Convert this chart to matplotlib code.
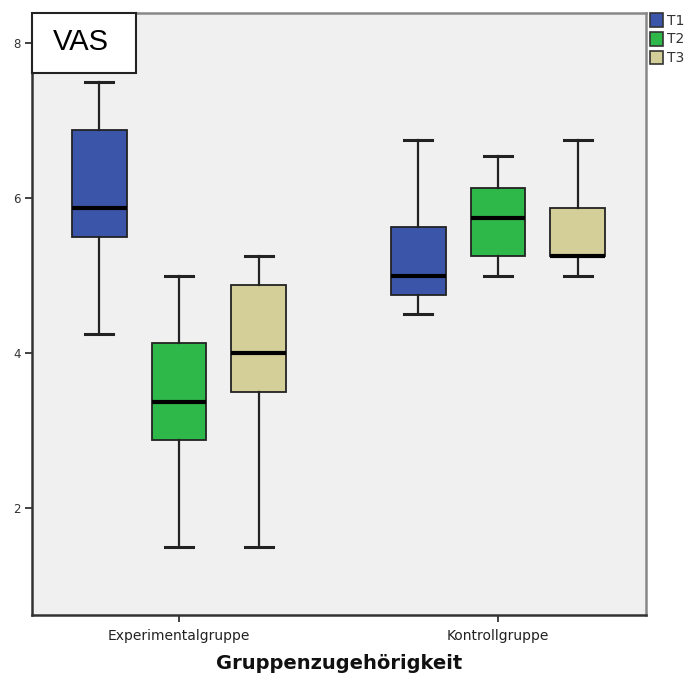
import matplotlib
matplotlib.use("Agg")
import matplotlib.pyplot as plt
from matplotlib.patches import Patch, Rectangle

groups = ["Experimentalgruppe", "Kontrollgruppe"]
times = ["T1", "T2", "T3"]
colors = ["#3b56a9", "#2fb84a", "#d4cf99"]

# box statistics per group, in T1, T2, T3 order
whis_lo = [[4.25, 1.5, 1.5], [4.5, 5.0, 5.0]]
q1 = [[5.5, 2.875, 3.5], [4.75, 5.25, 5.25]]
med = [[5.875, 3.375, 4.0], [5.0, 5.75, 5.25]]
q3 = [[6.875, 4.125, 4.875], [5.625, 6.125, 5.875]]
whis_hi = [[7.5, 5.0, 5.25], [6.75, 6.55, 6.75]]

fig = plt.figure(figsize=(6.88, 6.75), dpi=100)
ax = fig.add_axes([32 / 688, 1 - 615 / 675, 614 / 688, 602 / 675])
ax.set_facecolor("#f0f0f0")

offsets = [-0.25, 0.0, 0.25]
for g in range(len(groups)):
    for t in range(len(times)):
        st = [dict(whislo=whis_lo[g][t], q1=q1[g][t], med=med[g][t],
                   q3=q3[g][t], whishi=whis_hi[g][t], fliers=[])]
        ax.bxp(st, positions=[g + offsets[t]], widths=0.172, patch_artist=True,
               showfliers=False,
               boxprops=dict(facecolor=colors[t], edgecolor="#222222", linewidth=1.3),
               medianprops=dict(color="black", linewidth=3),
               whiskerprops=dict(color="#222222", linewidth=1.6),
               capprops=dict(color="#222222", linewidth=2.2),
               capwidths=0.088)

ax.set_xlim(-0.461, 1.464)
ax.set_ylim(0.62, 8.39)
ax.set_xticks([0, 1])
ax.set_xticklabels(groups, fontsize=10, color="#222222")
ax.set_yticks([2, 4, 6, 8])
ax.set_yticklabels(["2", "4", "6", "8"], fontsize=8.5, color="#333333")
ax.tick_params(axis="both", length=5, width=1.3, color="#333333", pad=3)
ax.tick_params(axis="x", pad=5)
ax.set_xlabel("Gruppenzugehörigkeit", fontsize=14, fontweight="bold",
              color="#111111", labelpad=8)

for side in ["left", "bottom"]:
    ax.spines[side].set_color("#333333")
    ax.spines[side].set_linewidth(1.8)
for side in ["top", "right"]:
    ax.spines[side].set_color("#888888")
    ax.spines[side].set_linewidth(1.8)

# title box in the upper left corner
ax.add_patch(Rectangle((32 / 688, 1 - 73 / 675), 104 / 688, 60 / 675,
                       transform=fig.transFigure, facecolor="white",
                       edgecolor="#222222", linewidth=1.5, zorder=5, clip_on=False))
ax.text(81 / 688, 1 - 42 / 675, "VAS", transform=fig.transFigure,
        fontsize=21, family="Liberation Sans", ha="center", va="center",
        color="black", zorder=10)

handles = [Patch(facecolor=c, edgecolor="#333333", linewidth=1.2) for c in colors]
fig.legend(handles, times, loc="upper left", bbox_to_anchor=(650 / 688, 1 - 13 / 675),
           frameon=False, fontsize=10, handlelength=0.9, handleheight=1.15,
           handletextpad=0.3, labelspacing=0.3, borderpad=0, borderaxespad=0,
           labelcolor="#333333")

fig.savefig("out.png", dpi=100)
